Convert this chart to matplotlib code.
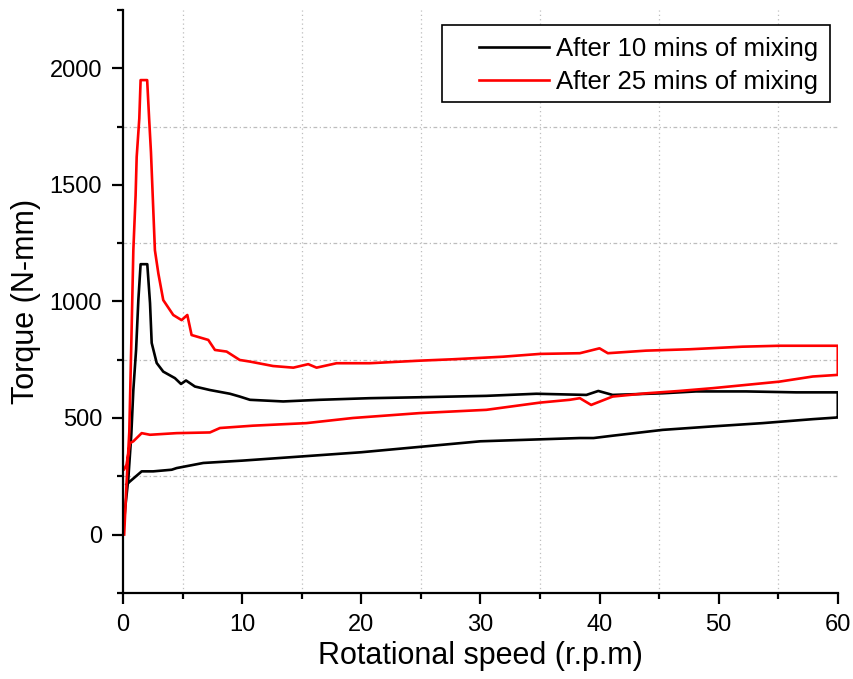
import numpy as np
import matplotlib
matplotlib.use("Agg")
import matplotlib.pyplot as plt
from matplotlib.ticker import MultipleLocator
from matplotlib.patches import Rectangle

plt.rcParams['font.family'] = ['Liberation Sans', 'DejaVu Sans']

# After 10 mins of mixing: ramp up (0 -> 60 rpm) then ramp down (60 -> 0 rpm)
x10_up = [0, 0.2, 0.45, 0.7, 0.87, 1.1, 1.29, 1.48, 2.04, 2.27, 2.41, 2.83, 3.38, 4.36, 4.87,
          5.29, 6.04, 7.3, 8.98, 9.8, 10.66, 13.45, 16.5, 20.7, 24.9, 30.5, 34.7, 38.9, 39.9,
          41.1, 45.3, 48.1, 52.3, 56.5, 60]
y10_up = [0, 120, 240, 430, 620, 792, 1006, 1160, 1160, 993, 822, 736, 699, 671, 646,
          661, 635, 620, 604, 592, 578, 571, 578, 585, 589, 595, 604, 599, 616,
          599, 606, 614, 614, 610, 610]
x10_down = [60, 59.9, 57.9, 53.7, 49.5, 45.3, 41.1, 39.5, 38.35, 30, 20, 10, 6.74, 4.5,
            4.09, 2.54, 1.57, 0.59, 0.3]
y10_down = [502, 502, 495, 478, 464, 449, 424, 414, 414, 400, 353, 317, 307, 285,
            278, 271, 271, 228, 215]

# After 25 mins of mixing
x25_up = [0.1, 0.3, 0.53, 0.73, 0.87, 1.06, 1.15, 1.37, 1.48, 2.03, 2.2, 2.35, 2.46, 2.68,
          2.97, 3.38, 4.22, 4.92, 5.4, 5.76, 7.16, 7.72, 8.7, 9.8, 10.66, 12.6, 14.3, 15.55,
          16.25, 17.93, 20.7, 24.9, 27.7, 31.9, 35, 38.35, 40.0, 40.7, 43.9, 47.6, 52, 55.1, 60]
y25_up = [0, 220, 440, 890, 1220, 1455, 1620, 1785, 1950, 1950, 1780, 1640, 1500, 1220,
          1120, 1006, 942, 920, 942, 856, 835, 792, 785, 749, 742, 723, 716, 731,
          716, 735, 735, 746, 752, 763, 775, 778, 799, 778, 789, 795, 806, 810, 810]
x25_down = [60, 57.9, 55.1, 52.3, 49.5, 46.7, 43.95, 41.1, 39.3, 38.35, 37.5, 35, 30.5, 24.9,
            19.3, 15.4, 10.9, 8.14, 7.3, 4.5, 2.27, 1.57, 0.87, 0.59, 0.3, 0.1]
y25_down = [685, 678, 656, 642, 628, 616, 606, 592, 556, 585, 578, 566, 535, 521,
            500, 478, 467, 457, 438, 435, 428, 435, 400, 392, 300, 280]

fig = plt.figure(figsize=(8.54, 6.79), dpi=100)
ax = fig.add_axes([0.144, 0.127, 0.837, 0.858])

ax.plot(x10_up + x10_down, y10_up + y10_down, color='black', lw=1.9,
        label='After 10 mins of mixing')
ax.plot(x25_up + x25_down, y25_up + y25_down, color='red', lw=1.9,
        label='After 25 mins of mixing')

ax.set_xlim(0, 60)
ax.set_ylim(-250, 2250)
ax.xaxis.set_major_locator(MultipleLocator(10))
ax.xaxis.set_minor_locator(MultipleLocator(5))
ax.yaxis.set_major_locator(MultipleLocator(500))
ax.yaxis.set_minor_locator(MultipleLocator(250))

# grid lines only at the minor positions
for v in [5, 15, 25, 35, 45, 55]:
    ax.axvline(v, color='#bdbdbd', lw=0.9, ls=(0, (1, 2.5)), zorder=0)
for v in [250, 750, 1250, 1750]:
    ax.axhline(v, color='#bdbdbd', lw=0.9, ls=(0, (3, 2, 1, 2)), zorder=0)

for s in ['top', 'right']:
    ax.spines[s].set_visible(False)
for s in ['left', 'bottom']:
    ax.spines[s].set_linewidth(1.6)

ax.tick_params(which='major', direction='out', length=8, width=1.6, labelsize=17, pad=7)
ax.tick_params(which='minor', direction='out', length=4.5, width=1.6)

ax.set_xlabel('Rotational speed (r.p.m)', fontsize=22, labelpad=4)
ax.set_ylabel('Torque (N-mm)', fontsize=22, labelpad=6)

# legend box drawn separately (wider left margin, as in the original)
ax.add_patch(Rectangle((0.446, 0.842), 0.543, 0.132, transform=ax.transAxes,
                       facecolor='white', edgecolor='black', lw=1.2, zorder=4))
leg = ax.legend(loc='upper right', bbox_to_anchor=(0.989, 0.974), borderaxespad=0,
                fontsize=18.5, frameon=False, handlelength=2.7,
                handletextpad=0.3, borderpad=0.45, labelspacing=0.35)
leg.set_zorder(5)

fig.savefig('out.png', dpi=100)
